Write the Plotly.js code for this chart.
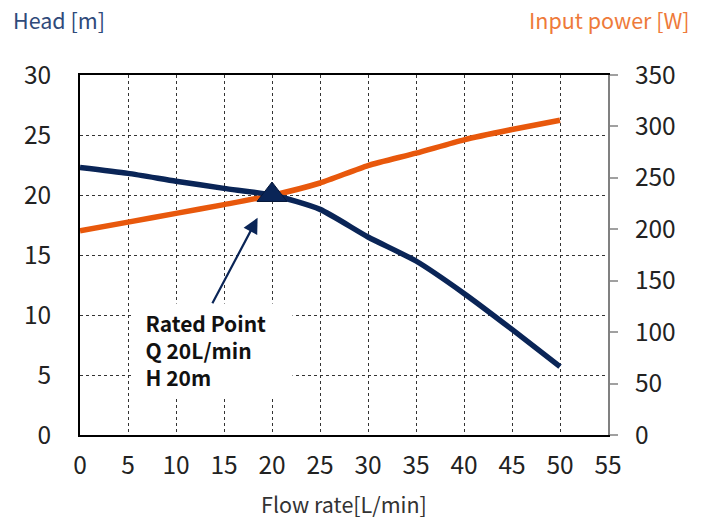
<!DOCTYPE html>
<html>
<head>
<meta charset="utf-8">
<script src="https://cdn.plot.ly/plotly-3.0.1.min.js"></script>
<style>html,body{margin:0;padding:0;background:#fff;}#chart{width:702px;height:520px;}</style>
</head>
<body>
<div id="chart"></div>
<script>
const flowRate = [0, 5, 10, 15, 20, 25, 30, 35, 40, 45, 50];
const headM = [22.3, 21.8, 21.15, 20.55, 20.0, 18.8, 16.5, 14.5, 11.8, 8.8, 5.7];
const powerW = [198.5, 207, 215.5, 224, 233, 245, 262, 274, 287, 297, 306];
const ratedQ = [20];
const ratedH = [20];
const xTicks = [0, 5, 10, 15, 20, 25, 30, 35, 40, 45, 50, 55];
const headTicks = [0, 5, 10, 15, 20, 25, 30];
const powerTicks = [0, 50, 100, 150, 200, 250, 300, 350];

const FONT = '"Noto Sans CJK JP", "Noto Sans", sans-serif';
const NAVY = '#0a2557';
const ORANGE = '#e8580c';

// yaxis = input power (right), yaxis2 = head (left, overlaying so it draws on top)
const traces = [
  {x: flowRate, y: powerW, yaxis: 'y', type: 'scatter', mode: 'lines',
   line: {color: ORANGE, width: 5.5, shape: 'spline', smoothing: 0.6}, hoverinfo: 'skip'},
  {x: flowRate, y: headM, yaxis: 'y2', type: 'scatter', mode: 'lines',
   line: {color: NAVY, width: 5.5, shape: 'spline', smoothing: 0.6}, hoverinfo: 'skip'},
  {x: ratedQ, y: ratedH, yaxis: 'y2', type: 'scatter', mode: 'markers',
   marker: {symbol: 'triangle-up', size: 26, color: NAVY, line: {color: '#06183a', width: 1}}, hoverinfo: 'skip'}
];

const layout = {
  width: 702, height: 520,
  margin: {l: 80, r: 94, t: 75, b: 85},
  paper_bgcolor: '#fff', plot_bgcolor: '#fff',
  showlegend: false,
  font: {family: FONT, color: '#222', size: 24},
  xaxis: {
    range: [0, 55], tickvals: xTicks, ticktext: xTicks.map(String),
    showgrid: true, gridcolor: '#333', griddash: 'dot', gridwidth: 1,
    showline: true, linecolor: '#000', linewidth: 2, mirror: true,
    ticks: '', zeroline: false, ticklabelstandoff: 8,
    tickfont: {size: 24.5, family: FONT, color: '#222'},
    title: {text: 'Flow rate[L/min]', font: {size: 21.5, family: FONT, color: '#333'}, standoff: 18}
  },
  yaxis: {
    range: [0, 350], tickvals: powerTicks, ticktext: powerTicks.map(String),
    side: 'right',
    showgrid: false, zeroline: false,
    showline: true, linecolor: '#808080', linewidth: 2,
    ticks: 'outside', ticklen: 8, tickcolor: '#a0a0a0', tickwidth: 2,
    ticklabelstandoff: 12,
    tickfont: {size: 24.5, family: FONT, color: '#222'}
  },
  yaxis2: {
    range: [0, 30], tickvals: headTicks, ticktext: headTicks.map(String),
    overlaying: 'y', side: 'left',
    showgrid: true, gridcolor: '#333', griddash: 'dot', gridwidth: 1,
    showline: true, linecolor: '#000', linewidth: 2,
    ticks: '', zeroline: false, ticklabelstandoff: 22,
    tickfont: {size: 24.5, family: FONT, color: '#222'}
  },
  annotations: [
    {xref: 'paper', yref: 'paper', x: -0.13, y: 1.155, xanchor: 'left', yanchor: 'middle',
     text: 'Head [m]', showarrow: false, font: {size: 21.5, family: FONT, color: '#2f4a7a'}},
    {xref: 'paper', yref: 'paper', x: 1.16, y: 1.155, xanchor: 'right', yanchor: 'middle',
     text: 'Input power [W]', showarrow: false, font: {size: 21.5, family: FONT, color: '#ee7a3a'}},
    {x: 13.75, y: 7.1, xref: 'x', yref: 'y2',
     text: '&nbsp;&nbsp;Rated Point<br>&nbsp;&nbsp;Q 20L/min<br>&nbsp;&nbsp;H 20m',
     showarrow: false, align: 'left', bgcolor: '#fff', borderpad: 4, width: 152, height: 84,
     font: {size: 21, family: FONT, color: '#111', weight: 'bold'}},
    {x: 18.5, y: 18.1, xref: 'x', yref: 'y2', text: '', showarrow: true,
     ax: -46, ay: 87, arrowhead: 2, arrowsize: 1.4, arrowwidth: 2.2, arrowcolor: NAVY}
  ]
};

Plotly.newPlot('chart', traces, layout, {staticPlot: true, displayModeBar: false});
</script>
</body>
</html>
